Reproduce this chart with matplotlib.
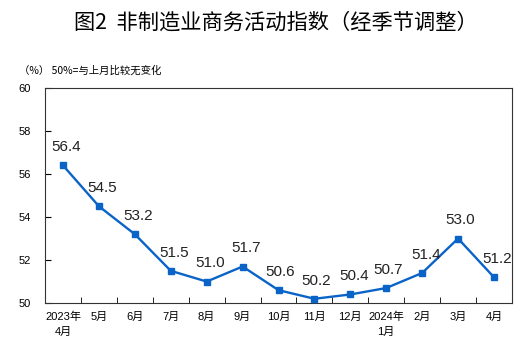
import numpy as np
import matplotlib.pyplot as plt

plt.rcParams['font.family'] = ['Liberation Sans', 'Noto Sans CJK SC']

months = ['2023年\n4月', '5月', '6月', '7月', '8月', '9月', '10月', '11月',
          '12月', '2024年\n1月', '2月', '3月', '4月']
values = [56.4, 54.5, 53.2, 51.5, 51.0, 51.7, 50.6, 50.2, 50.4, 50.7, 51.4, 53.0, 51.2]
label_dx = [0.1, 0.1, 0.1, 0.1, 0.1, 0.1, 0.05, 0.05, 0.1, 0.05, 0.1, 0.05, 0.1]

line_color = '#0a64c8'

fig = plt.figure(figsize=(5.24, 3.52), dpi=100)
ax = fig.add_axes([0.086, 0.139, 0.891, 0.611])

x = np.arange(len(values))
ax.plot(x, values, color=line_color, lw=1.7, marker='s', ms=4.5, zorder=3)
for xi, v, dx in zip(x, values, label_dx):
    ax.annotate(f'{v:.1f}', (xi + dx, v), xytext=(0, 8), textcoords='offset points',
                ha='center', va='bottom', fontsize=11, color='#222222')

ax.set_xlim(-0.5, len(values) - 0.5)
ax.set_ylim(50, 60)
ax.set_yticks(np.arange(50, 61, 2))
ax.tick_params(axis='y', direction='in', length=4, labelsize=8, pad=10)
ax.set_xticks(x)
ax.set_xticklabels(months, fontsize=8, linespacing=1.6)
ax.tick_params(axis='x', length=0, pad=6)
ax.set_xticks(np.arange(0.5, len(values) - 1, 1), minor=True)
ax.tick_params(axis='x', which='minor', direction='in', length=4)
for s in ax.spines.values():
    s.set_linewidth(0.8)
    s.set_color('#333333')

fig.text(0.527, 0.937, '图2  非制造业商务活动指数（经季节调整）', ha='center', va='center',
         fontsize=15.3, fontweight='medium', family=['Noto Sans CJK SC'])
fig.text(0.037, 0.8, '（%） 50%=与上月比较无变化', ha='left', va='center', fontsize=7.5,
         family=['Noto Sans CJK SC'])

fig.savefig('out.png', dpi=100)
